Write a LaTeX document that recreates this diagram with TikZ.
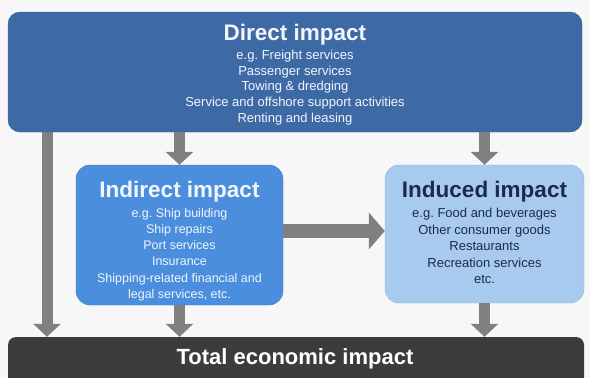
\documentclass[tikz,border=0pt]{standalone}
\usepackage{fontspec}
\setmainfont{Liberation Sans}
\usetikzlibrary{arrows.meta}

\definecolor{bgpaper}{HTML}{F7F7F7}
\definecolor{directfill}{HTML}{3D6AA5}
\definecolor{directedge}{HTML}{30598F}
\definecolor{indirectfill}{HTML}{4A8EDD}
\definecolor{indirectedge}{HTML}{3C7BC8}
\definecolor{inducedfill}{HTML}{A9CAEF}
\definecolor{inducededge}{HTML}{8DB2DC}
\definecolor{inducedtext}{HTML}{1B2B4D}
\definecolor{totalfill}{HTML}{3C3C3C}
\definecolor{arrowgray}{HTML}{808080}
\definecolor{paletext}{HTML}{F2F6FC}

\tikzset{
  panel/.style={rectangle, inner sep=0pt},
  titletext/.style={inner sep=0pt, font=\fontsize{22.5}{26}\selectfont\bfseries},
  listtext/.style={inner sep=0pt, align=center, font=\fontsize{13}{15.6}\selectfont},
  blockarrow/.style={draw=arrowgray, line width=11pt, -{Triangle[length=13pt, width=27pt]}},
  widearrow/.style={draw=arrowgray, line width=14pt, -{Triangle[length=16pt, width=36pt]}}
}

\begin{document}
\begin{tikzpicture}[x=1pt, y=-1pt]
  \useasboundingbox (0,0) rectangle (590,378);
  \clip (0,0) rectangle (590,378);
  \fill[bgpaper] (0,0) rectangle (590,378);

  % boxes
  \node[panel, fill=directfill, draw=directedge, rounded corners=12pt,
        minimum width=574pt, minimum height=120pt] (direct) at (295,72) {};
  \node[panel, fill=indirectfill, draw=indirectedge, rounded corners=14pt,
        minimum width=207pt, minimum height=140pt] (indirect) at (179.5,235) {};
  \node[panel, fill=inducedfill, draw=inducededge, rounded corners=14pt,
        minimum width=199pt, minimum height=138pt] (induced) at (484.5,234) {};
  \node[panel, fill=totalfill, rounded corners=8pt,
        minimum width=576pt, minimum height=50pt] (total) at (296,362) {};

  % texts
  \node[titletext, text=paletext] (directtitle) at (295,35) {Direct impact};
  \node[listtext, text=paletext, anchor=north] (directlist) at (295,50)
    {e.g.\ Freight services\\Passenger services\\Towing \& dredging\\
     Service and offshore support activities\\Renting and leasing};

  \node[titletext, text=paletext] (indirecttitle) at (179.5,192) {Indirect impact};
  \node[listtext, text=paletext, anchor=north, font=\fontsize{12.5}{16.2}\selectfont]
    (indirectlist) at (179.5,208)
    {e.g.\ Ship building\\Ship repairs\\Port services\\Insurance\\
     Shipping-related financial and\\legal services, etc.};

  \node[titletext, text=inducedtext] (inducedtitle) at (484.5,192) {Induced impact};
  \node[listtext, text=inducedtext, anchor=north, font=\fontsize{13}{16.5}\selectfont]
    (inducedlist) at (484.5,208)
    {e.g.\ Food and beverages\\Other consumer goods\\Restaurants\\
     Recreation services\\etc.};

  \node[titletext, text=white, font=\fontsize{22}{26}\selectfont\bfseries]
    (totaltitle) at (295,359) {Total economic impact};

  % connectors
  \coordinate (lx) at (47,200);
  \coordinate (hy) at (300,231);
  \draw[blockarrow] (direct.south -| lx) -- (total.north -| lx);
  \draw[blockarrow] (direct.south -| indirect.north) -- (indirect.north);
  \draw[blockarrow] (direct.south -| induced.north) -- (induced.north);
  \draw[widearrow] (indirect.east |- hy) -- (induced.west |- hy);
  \draw[blockarrow] (indirect.south) -- (total.north -| indirect.south);
  \draw[blockarrow] (induced.south) -- (total.north -| induced.south);
\end{tikzpicture}
\end{document}
